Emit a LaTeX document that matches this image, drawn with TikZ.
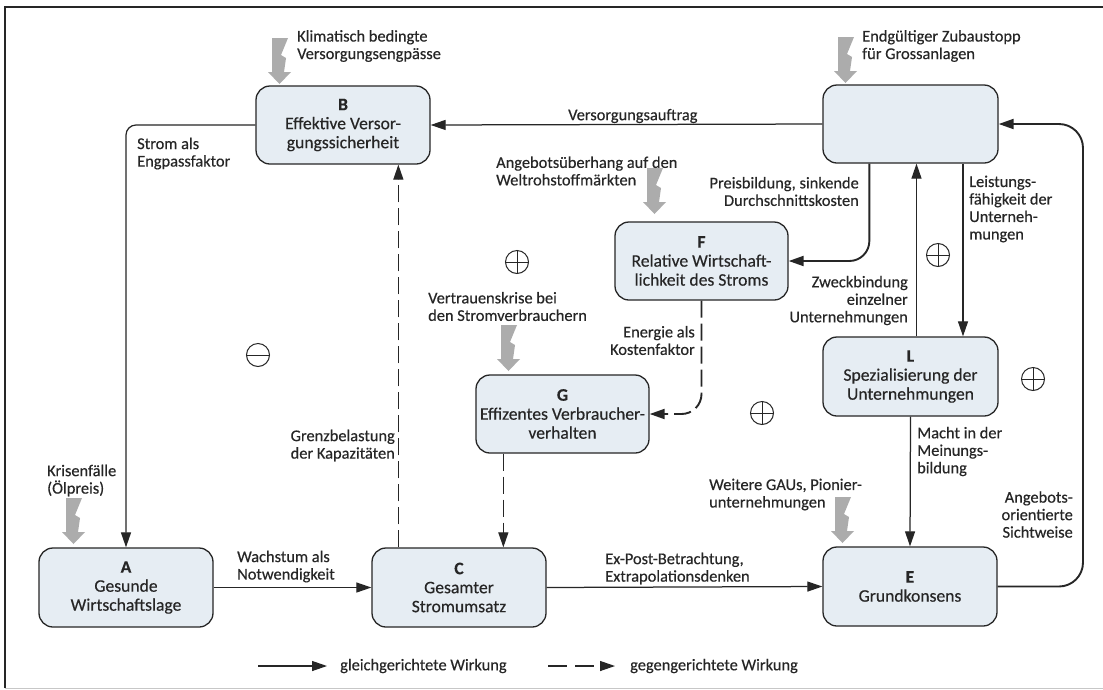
\documentclass[tikz,border=0pt]{standalone}
\usepackage{fontspec}
\setmainfont{Carlito}[FakeBold=0.35]
\usetikzlibrary{arrows.meta}
\definecolor{boxfill}{RGB}{230,237,243}
\definecolor{ink}{RGB}{38,38,38}
\definecolor{boltgray}{RGB}{172,172,172}
\tikzset{
  box/.style={draw=ink, line width=1.3pt, rounded corners=14pt, fill=boxfill, align=center, text=ink, font=\fontsize{17.6}{19}\selectfont, inner sep=0pt},
  lbl/.style={text=ink, font=\fontsize{16.4}{17.5}\selectfont, inner sep=0pt},
  lbll/.style={lbl, anchor=west, align=left},
  lblr/.style={lbl, anchor=east, align=right},
  conn/.style={draw=ink, line width=1.25pt, -{Triangle[length=15pt,width=10pt]}},
  thickconn/.style={conn, line width=1.9pt},
  dconn/.style={conn, dash pattern=on 17pt off 6pt},
  signbase/.style={circle, draw=ink, line width=1pt, minimum size=23pt, inner sep=0pt},
  plussign/.style={signbase, path picture={\draw[ink, line width=1pt] (path picture bounding box.north) -- (path picture bounding box.south) (path picture bounding box.west) -- (path picture bounding box.east);}},
  minussign/.style={signbase, path picture={\draw[ink, line width=1pt] (path picture bounding box.west) -- (path picture bounding box.east);}},
  bolt/.pic={\fill[boltgray] (0,0) -- (16,0) -- (9,17) -- (14,20) -- (12,34) -- (19,34) -- (7.5,46) -- (-4,34) -- (0,34) -- cycle;}
}
\begin{document}
\begin{tikzpicture}[x=1pt,y=-1pt]
\useasboundingbox (0,0) rectangle (1103,689);
\fill[white] (0,0) rectangle (1103,689);
% frame
\draw[ink, line width=1.3pt] (5,688) -- (5,7) -- (1103,7);
\draw[black!22, line width=1pt] (5,688) -- (1103,688);

% boxes
\node[box, minimum width=174pt, minimum height=78pt] (B) at (343,125) {\textbf{B}\\Effektive Versor-\\gungssicherheit};
\node[box, minimum width=175pt, minimum height=78pt] (T) at (910.5,124) {};
\node[box, minimum width=173pt, minimum height=78pt] (F) at (701.5,261) {\textbf{F}\\Relative Wirtschaft-\\lichkeit des Stroms};
\node[box, minimum width=173pt, minimum height=78pt] (G) at (562.5,414) {\textbf{G}\\Effizentes Verbraucher-\\verhalten};
\node[box, minimum width=175pt, minimum height=79pt] (L) at (910.5,376.5) {\textbf{L}\\Spezialisierung der\\Unternehmungen};
\node[box, minimum width=174pt, minimum height=79pt] (A) at (126,587.5) {\textbf{A}\\Gesunde\\Wirtschaftslage};
\node[box, minimum width=174pt, minimum height=79pt] (C) at (459,587.5) {\textbf{C}\\Gesamter\\Stromumsatz};
\node[box, minimum width=174pt, minimum height=79pt] (E) at (910,586.5) {\textbf{E}\\Grundkonsens};

% bolts
\pic at (272,38) {bolt};
\pic at (838,37) {bolt};
\pic at (647,168) {bolt};
\pic at (501,325) {bolt};
\pic at (66,498) {bolt};
\pic at (835,497) {bolt};

% bolt labels
\node[lbll] (kl) at (297,46) {Klimatisch bedingte\\Versorgungsengpässe};
\node[lbll] (en) at (862,46) {Endgültiger Zubaustopp\\für Grossanlagen};
\node[lbll] (an) at (496,171) {Angebotsüberhang auf den\\Weltrohstoffmärkten};
\node[lbll] (vt) at (428,306.5) {Vertrauenskrise bei\\den Stromverbrauchern};
\node[lbll] (kr) at (47,480.5) {Krisenfälle\\(Ölpreis)};
\node[lbll] (wg) at (709,494.5) {Weitere GAUs, Pionier-\\unternehmungen};

% connectors
\coordinate (loopR) at (1083,300);
\draw[conn, rounded corners=10pt] (B.west) -| (A.north);
\draw[conn] (A.east) -- (C.west);
\draw[dconn] ([xshift=27pt]C.north west) -- ([xshift=27pt]C.north west |- B.south);
\draw[conn] (C.east) -- (E.west);
\draw[thickconn, rounded corners=24pt] (E.east) -| (loopR |- T.east) -- (T.east);
\draw[conn] (T.west) -- (B.east);
\draw[thickconn, rounded corners=20pt] ([xshift=47pt]T.south west) |- (F.east);
\draw[conn] ([xshift=6pt]L.north) -- ([xshift=6pt]T.south);
\draw[conn] ([xshift=52.5pt]T.south) -- ([xshift=52.5pt]L.north);
\draw[conn] (L.south) -- (E.north);
\draw[dconn, line width=1.9pt, rounded corners=20pt] (F.south) |- (G.east);
\draw[dconn] ([xshift=28pt]G.south west) -- ([xshift=28pt]G.south west |- C.north);

% connector labels
\node[lbll] (l1) at (137,153.5) {Strom als\\Engpassfaktor};
\node[lbll] (l2) at (568,116) {Versorgungsauftrag};
\node[lblr] (l3) at (859,191.5) {Preisbildung, sinkende\\Durchschnittskosten};
\node[lbll] (l4) at (969,209) {Leistungs-\\fähigkeit der\\Unterneh-\\mungen};
\node[lblr] (l5) at (908,300.5) {Zweckbindung\\einzelner\\Unternehmungen};
\node[lblr] (l6) at (695,340.5) {Energie als\\Kostenfaktor};
\node[lblr] (l7) at (395,445.5) {Grenzbelastung\\der Kapazitäten};
\node[lbll] (l8) at (917,451.5) {Macht in der\\Meinungs-\\bildung};
\node[lblr] (l9) at (1073,514.5) {Angebots-\\orientierte\\Sichtweise};
\node[lbll] (l10) at (237,566.5) {Wachstum als\\Notwendigkeit};
\node[lbll] (l11) at (605,568.5) {Ex-Post-Betrachtung,\\Extrapolationsdenken};

% signs
\node[plussign] (s1) at (517,262) {};
\node[plussign] (s2) at (938,255) {};
\node[plussign] (s3) at (762,413) {};
\node[plussign] (s4) at (1033,379) {};
\node[minussign] (s5) at (258,355) {};

% legend
\coordinate (la1) at (258,666);
\coordinate (la2) at (327,666);
\coordinate (lb1) at (548,666);
\coordinate (lb2) at (615,666);
\draw[conn] (la1) -- (la2);
\draw[dconn, dash pattern=on 19pt off 8pt] (lb1) -- (lb2);
\node[lbll] (lg1) at (340,666) {gleichgerichtete Wirkung};
\node[lbll] (lg2) at (630,666) {gegengerichtete Wirkung};
\end{tikzpicture}
\end{document}
